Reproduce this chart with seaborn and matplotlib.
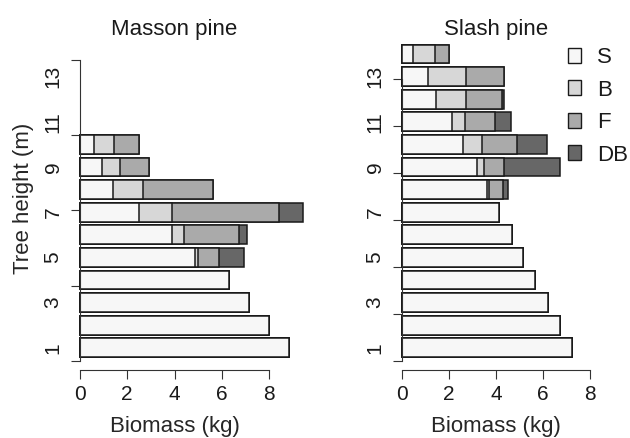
import numpy as np
import pandas as pd
import matplotlib
matplotlib.use("Agg")
import matplotlib.pyplot as plt
import seaborn as sns
from matplotlib.patches import Patch

# ---------------- data ----------------
components = ["S", "B", "F", "DB"]
component_colors = ["#F7F7F7", "#D7D7D7", "#AAAAAA", "#676767"]

masson_height = [1, 2, 3, 4, 5, 6, 7, 8, 9, 10]
masson_S = [8.86, 8.01, 7.16, 6.31, 4.88, 3.90, 2.48, 1.40, 0.92, 0.58]
masson_B = [0.00, 0.00, 0.00, 0.00, 0.11, 0.51, 1.41, 1.25, 0.77, 0.84]
masson_F = [0.00, 0.00, 0.00, 0.00, 0.90, 2.30, 4.55, 3.00, 1.25, 1.06]
masson_DB = [0.00, 0.00, 0.00, 0.00, 1.05, 0.34, 0.98, 0.00, 0.00, 0.00]

slash_height = [1, 2, 3, 4, 5, 6, 7, 8, 9, 10, 11, 12, 13, 14]
slash_S = [7.25, 6.72, 6.21, 5.68, 5.17, 4.66, 4.14, 3.61, 3.21, 2.61, 2.12, 1.46, 1.11, 0.46]
slash_B = [0.00, 0.00, 0.00, 0.00, 0.00, 0.00, 0.00, 0.11, 0.30, 0.81, 0.57, 1.27, 1.62, 0.96]
slash_F = [0.00, 0.00, 0.00, 0.00, 0.00, 0.00, 0.00, 0.56, 0.85, 1.48, 1.28, 1.53, 1.61, 0.58]
slash_DB = [0.00, 0.00, 0.00, 0.00, 0.00, 0.00, 0.00, 0.21, 2.37, 1.27, 0.65, 0.06, 0.00, 0.00]

ytick_labels = ["1", "3", "5", "7", "9", "11", "13"]
xtick_values = [0, 2, 4, 6, 8]

# ---------------- style ----------------
sns.set_theme(style="white")
plt.rcParams["font.family"] = ["Liberation Sans", "DejaVu Sans"]
plt.rcParams["axes.linewidth"] = 0.8
plt.rcParams["text.color"] = "#1a1a1a"

W, H = 630, 438
fig = plt.figure(figsize=(W / 100, H / 100), dpi=100)

ax_bottom_px, ax_top_px = 370, 26
ax_h = (ax_bottom_px - ax_top_px) / H
ax1 = fig.add_axes([80 / W, (H - ax_bottom_px) / H, 189 / W, ax_h])
ax2 = fig.add_axes([402 / W, (H - ax_bottom_px) / H, 188 / W, ax_h])

LABEL_FS = 16
TICK_FS = 15
EDGE = "#1a1a1a"


def r_to_bar(c):
    # R barplot coordinate -> bar index position
    return (c - 0.7) / 1.2 + 1


def draw(ax, heights, S, B, F, DB, title, rcoords):
    df = pd.DataFrame({"height": heights, "S": S, "B": B, "F": F, "DB": DB})
    cum = df[components].cumsum(axis=1)
    for comp, col in reversed(list(zip(components, component_colors))):
        sns.barplot(x=cum[comp], y=df["height"], orient="h", native_scale=True,
                    color=col, saturation=1, edgecolor=EDGE, linewidth=1.1,
                    width=0.83, errorbar=None, ax=ax)
    for p in ax.patches:
        p.set_clip_on(False)

    ax.set_xlim(0, 8)
    ax.set_ylim(0.0177, 15.24)
    sns.despine(ax=ax)
    ax.spines["left"].set_bounds(r_to_bar(rcoords[0]), r_to_bar(rcoords[-1]))
    ax.spines["bottom"].set_bounds(0, 8)
    for s in ("left", "bottom"):
        ax.spines[s].set_color("#333333")

    ax.set_xticks(xtick_values)
    ax.set_xticklabels([str(v) for v in xtick_values])
    ax.tick_params(axis="x", direction="out", length=6.7, width=0.8, pad=4,
                   labelsize=TICK_FS, colors="#333333", labelcolor="#1a1a1a", bottom=True)

    ax.yaxis.remove_overlapping_locs = False
    ax.set_yticks([r_to_bar(c) for c in rcoords])
    ax.set_yticklabels([""] * len(rcoords))
    ax.set_yticks([int(t) for t in ytick_labels], minor=True)
    ax.set_yticklabels(ytick_labels, minor=True, rotation=90, va="center")
    ax.tick_params(axis="y", which="major", direction="out", length=6.7, width=0.8,
                   colors="#333333", left=True)
    ax.tick_params(axis="y", which="minor", length=0, pad=12.5, labelsize=TICK_FS,
                   labelcolor="#1a1a1a", left=True)

    ax.set_xlabel("Biomass (kg)", fontsize=LABEL_FS, va="center")
    ax.xaxis.set_label_coords(0.5, (ax_bottom_px - 426.7) / (ax_bottom_px - ax_top_px))
    ax.set_ylabel("")
    ax.set_title(title, fontsize=LABEL_FS, pad=0,
                 y=(ax_bottom_px - 34.7) / (ax_bottom_px - ax_top_px))


draw(ax1, masson_height, masson_S, masson_B, masson_F, masson_DB, "Masson pine",
     [0, 4, 8, 12, 16])
draw(ax2, slash_height, slash_S, slash_B, slash_F, slash_DB, "Slash pine",
     [0, 2.5, 5, 7.5, 10, 12.5, 15])

ax1.set_ylabel("Tree height (m)", fontsize=LABEL_FS, va="center")
ax1.yaxis.set_label_coords((24 - 80) / 189, 0.5)

handles = [Patch(facecolor=c, edgecolor=EDGE, linewidth=1.0) for c in component_colors]
ax2.legend(handles, components, loc="upper left",
           bbox_to_anchor=(568 / W, (H - 47) / H), bbox_transform=fig.transFigure,
           frameon=False, borderpad=0, borderaxespad=0, handlelength=0.6,
           handleheight=0.65, handletextpad=0.7, labelspacing=0.52, fontsize=LABEL_FS)

fig.savefig("out.png", dpi=100, facecolor="white")
